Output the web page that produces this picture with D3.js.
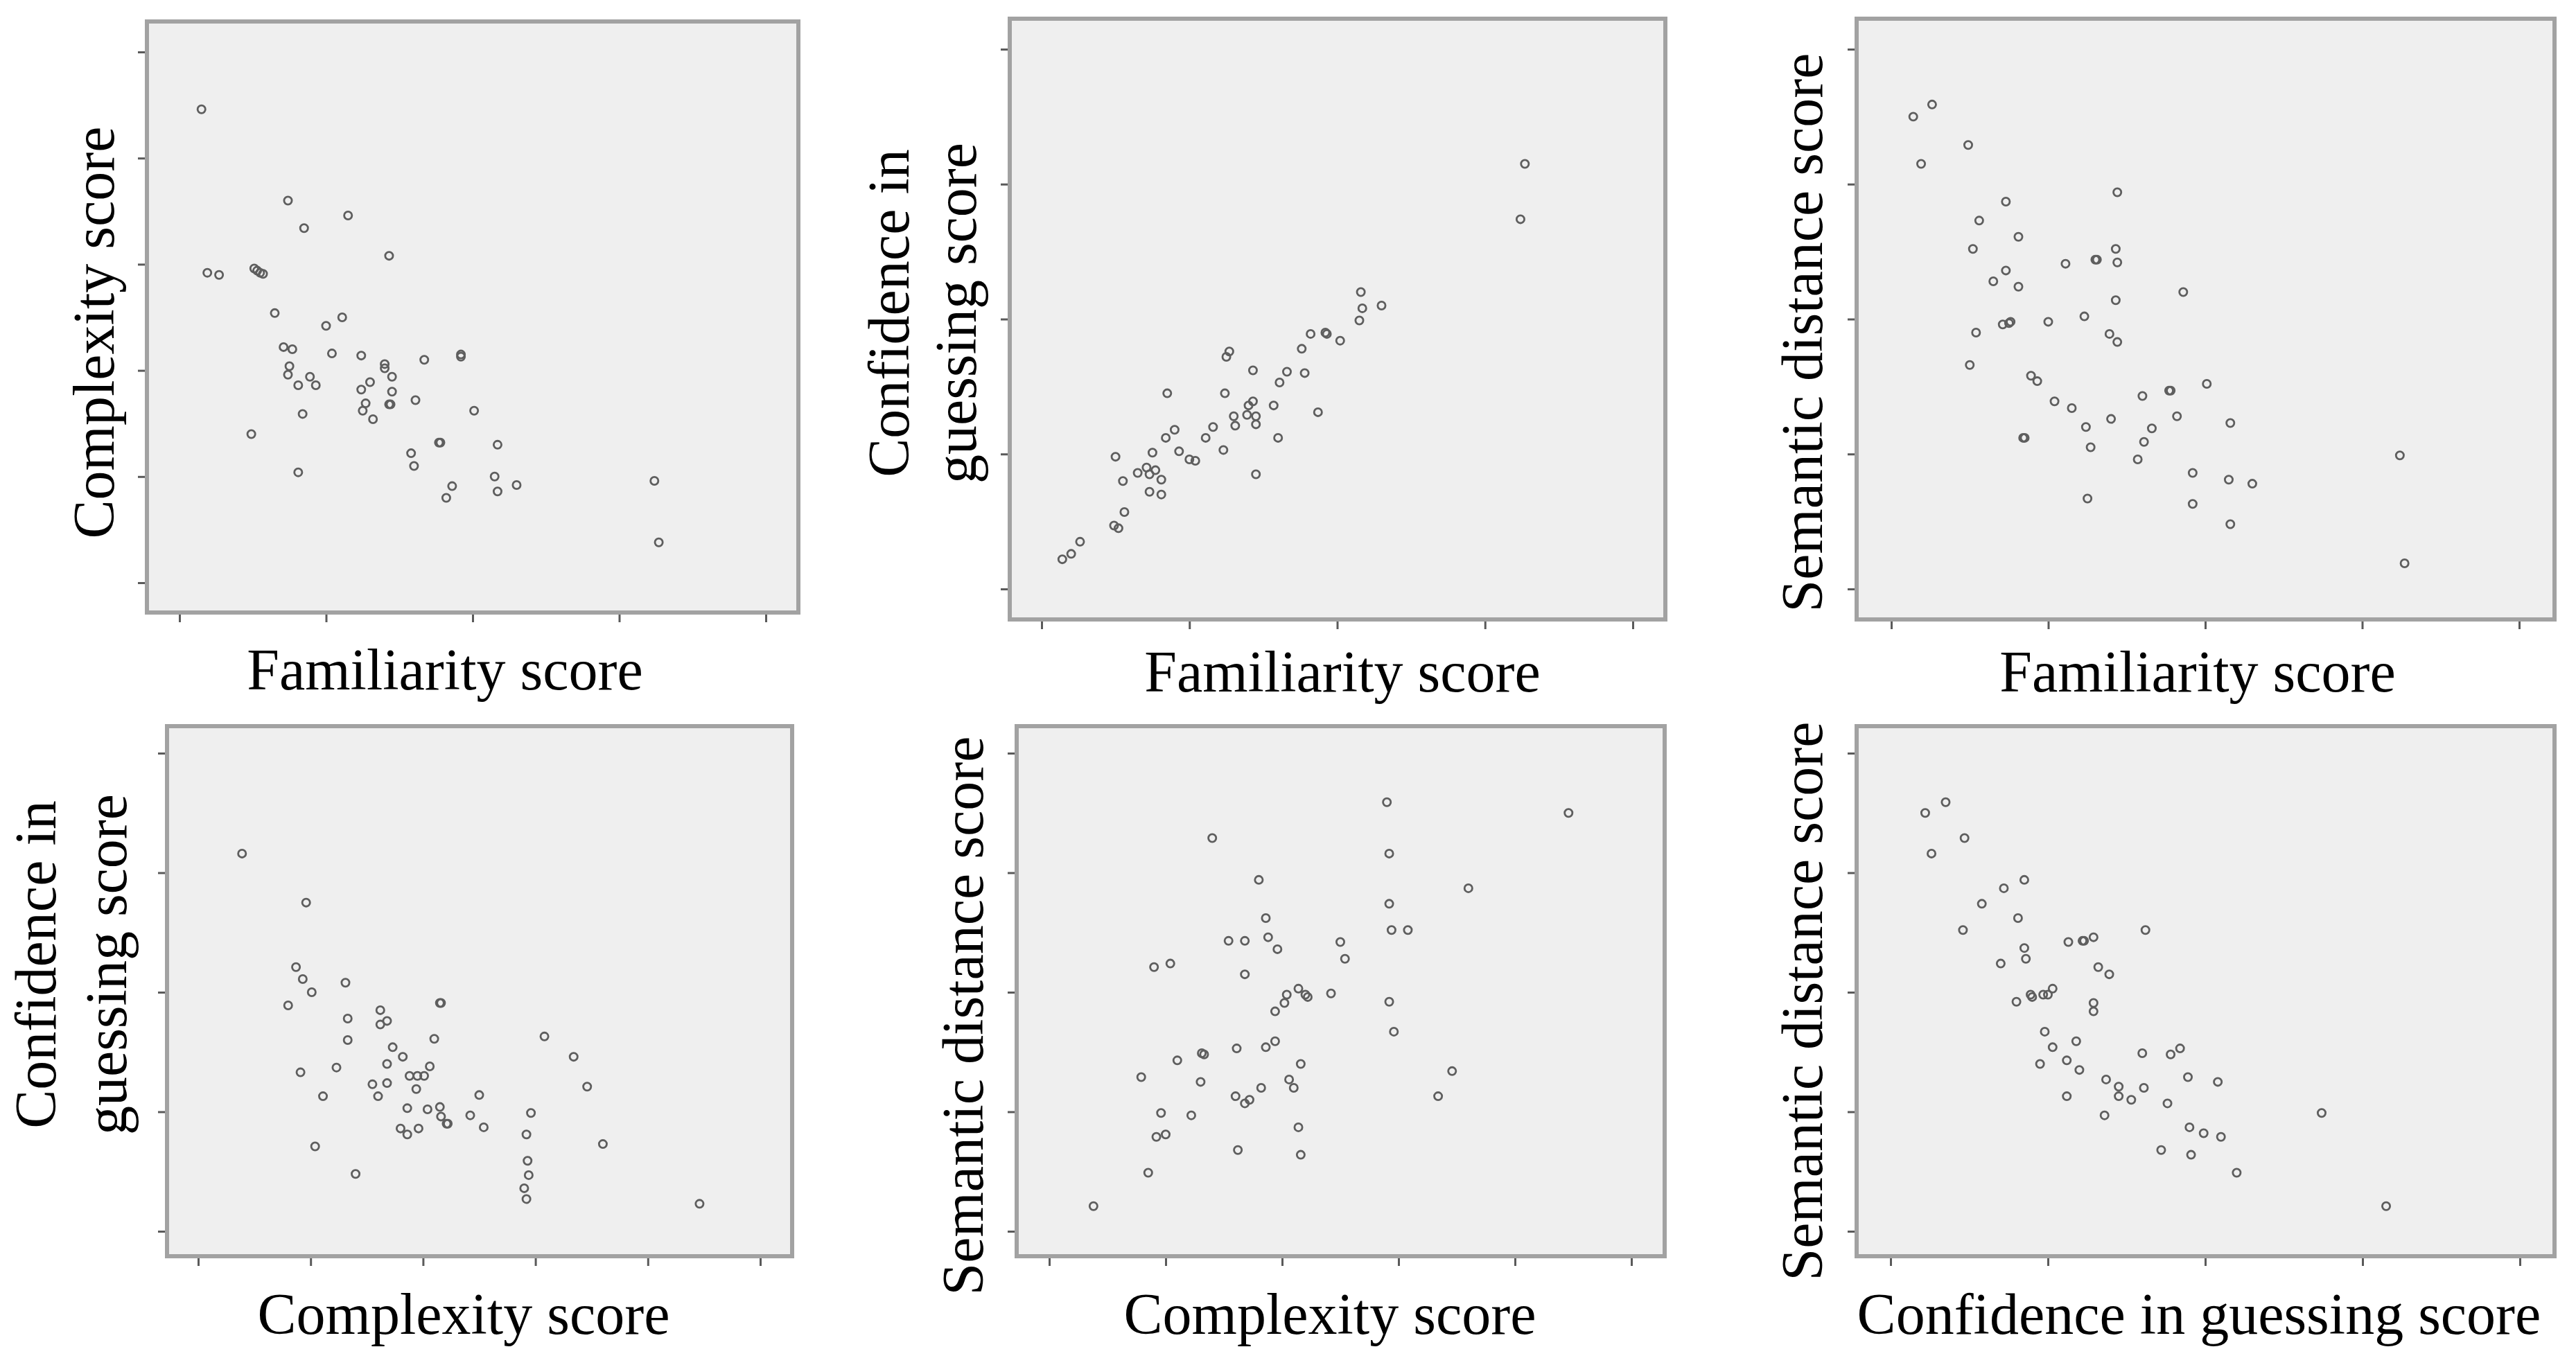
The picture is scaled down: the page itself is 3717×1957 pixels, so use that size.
<!DOCTYPE html>
<html>
<head>
<meta charset="utf-8">
<script src="https://cdn.jsdelivr.net/npm/d3@7"></script>
<style>
  body { margin: 0; background: #fff; }
  svg text { font-family: "Liberation Serif", "Times New Roman", serif; fill: #000; }
</style>
</head>
<body>
<div class="chart"></div>
<script>
// values, in tick units (first tick = 0)
const famComplexity = [[0.15,4.46],[0.74,3.60],[1.15,3.46],[0.85,3.34],[1.43,3.08],[0.19,2.92],[0.27,2.90],[0.51,2.96],[0.53,2.94],[0.55,2.92],[0.57,2.91],[0.65,2.54],[1.00,2.42],[1.11,2.50],[0.71,2.22],[0.77,2.20],[1.04,2.16],[1.24,2.14],[1.40,2.06],[1.40,2.02],[1.67,2.10],[1.92,2.15],[1.92,2.13],[0.75,2.04],[0.74,1.96],[0.89,1.94],[0.81,1.86],[0.93,1.86],[1.45,1.94],[1.30,1.89],[1.24,1.82],[1.45,1.80],[1.27,1.69],[1.43,1.68],[1.44,1.68],[1.61,1.72],[1.25,1.62],[1.32,1.54],[0.84,1.59],[2.01,1.62],[0.49,1.40],[1.77,1.32],[1.78,1.32],[2.17,1.30],[1.58,1.22],[1.60,1.10],[0.81,1.04],[2.15,1.00],[1.86,0.91],[1.82,0.80],[2.17,0.86],[2.30,0.92],[3.24,0.96],[3.27,0.38]];

const famConfidence = [[3.27,3.15],[3.24,2.74],[2.16,2.20],[2.17,2.08],[2.30,2.10],[2.15,1.99],[1.92,1.90],[1.93,1.89],[1.82,1.89],[2.02,1.84],[1.76,1.78],[1.27,1.76],[1.25,1.72],[1.43,1.62],[1.66,1.61],[1.78,1.60],[1.61,1.53],[0.85,1.45],[1.24,1.45],[1.43,1.39],[1.40,1.36],[1.57,1.36],[1.87,1.31],[1.30,1.28],[1.39,1.29],[1.45,1.28],[1.31,1.21],[1.45,1.22],[1.16,1.20],[0.90,1.18],[0.84,1.12],[1.11,1.12],[1.60,1.12],[1.23,1.03],[0.75,1.01],[0.93,1.02],[1.00,0.96],[1.04,0.95],[0.50,0.98],[0.71,0.90],[0.77,0.88],[0.65,0.86],[0.73,0.85],[0.81,0.81],[0.55,0.80],[0.73,0.72],[0.81,0.70],[1.45,0.85],[0.56,0.57],[0.49,0.47],[0.52,0.45],[0.26,0.35],[0.20,0.26],[0.14,0.22]];

const famSemantic = [[0.26,3.59],[0.14,3.50],[0.19,3.15],[0.49,3.29],[1.44,2.94],[0.73,2.87],[0.56,2.73],[0.81,2.61],[0.52,2.52],[1.43,2.52],[1.30,2.44],[1.31,2.44],[1.44,2.42],[1.11,2.41],[0.73,2.36],[0.65,2.28],[0.81,2.24],[1.86,2.20],[1.43,2.14],[1.23,2.02],[1.00,1.98],[0.71,1.96],[0.75,1.97],[0.76,1.98],[0.54,1.90],[1.39,1.89],[1.44,1.83],[0.50,1.66],[0.89,1.58],[0.93,1.54],[2.01,1.52],[1.77,1.47],[1.78,1.47],[1.60,1.43],[1.04,1.39],[1.15,1.34],[1.82,1.28],[1.40,1.26],[2.16,1.23],[1.24,1.20],[1.66,1.19],[0.84,1.12],[0.85,1.12],[1.61,1.09],[1.27,1.05],[1.57,0.96],[3.24,0.99],[1.92,0.86],[2.15,0.81],[2.30,0.78],[1.25,0.67],[1.92,0.63],[2.16,0.48],[3.27,0.19]];

const compConfidence = [[0.39,3.16],[0.96,2.75],[0.87,2.21],[0.93,2.11],[1.31,2.08],[1.01,2.00],[0.80,1.89],[2.15,1.91],[2.16,1.91],[1.62,1.85],[1.68,1.76],[1.33,1.78],[1.62,1.73],[2.10,1.61],[1.33,1.60],[3.08,1.63],[1.73,1.54],[1.82,1.46],[3.34,1.46],[1.68,1.40],[2.06,1.38],[1.23,1.37],[0.91,1.33],[1.88,1.30],[1.95,1.30],[2.01,1.30],[1.55,1.23],[1.68,1.24],[1.94,1.19],[3.46,1.21],[1.11,1.13],[1.60,1.13],[2.50,1.14],[1.86,1.03],[2.04,1.02],[2.15,1.04],[2.16,0.96],[2.21,0.90],[2.22,0.90],[2.42,0.97],[2.96,0.99],[2.54,0.87],[1.80,0.86],[1.86,0.81],[1.96,0.86],[2.92,0.81],[1.04,0.71],[3.60,0.73],[1.40,0.48],[2.93,0.59],[2.94,0.47],[2.90,0.36],[2.92,0.27],[4.46,0.23]];

const compSemantic = [[2.90,3.59],[4.46,3.50],[1.40,3.29],[2.92,3.16],[1.80,2.94],[3.60,2.87],[2.92,2.74],[1.86,2.62],[2.94,2.52],[3.08,2.52],[1.54,2.43],[1.68,2.43],[1.88,2.46],[1.96,2.36],[2.50,2.42],[2.54,2.28],[0.90,2.21],[1.04,2.24],[1.68,2.15],[2.14,2.03],[2.04,1.98],[2.20,1.98],[2.22,1.96],[2.42,1.99],[2.02,1.91],[1.94,1.84],[2.92,1.92],[2.96,1.67],[1.94,1.59],[1.86,1.54],[1.61,1.53],[1.31,1.49],[1.33,1.48],[1.10,1.43],[2.16,1.40],[3.46,1.34],[0.79,1.29],[1.30,1.25],[2.06,1.27],[2.10,1.20],[1.82,1.20],[1.60,1.13],[1.72,1.10],[1.68,1.07],[3.34,1.13],[0.96,0.99],[1.22,0.97],[1.00,0.81],[0.92,0.79],[2.14,0.87],[1.62,0.68],[2.16,0.64],[0.85,0.49],[0.38,0.21]];

const confSemantic = [[0.35,3.59],[0.22,3.50],[0.47,3.29],[0.26,3.16],[0.85,2.94],[0.72,2.87],[0.58,2.74],[0.81,2.62],[0.46,2.52],[1.62,2.52],[1.13,2.42],[1.22,2.43],[1.23,2.43],[1.29,2.46],[0.85,2.37],[0.86,2.28],[0.70,2.24],[1.32,2.21],[1.39,2.15],[1.03,2.03],[0.89,1.98],[0.90,1.96],[0.97,1.98],[1.00,1.98],[0.80,1.92],[1.29,1.91],[1.29,1.84],[0.98,1.67],[1.18,1.59],[1.03,1.54],[1.84,1.53],[1.60,1.49],[1.78,1.48],[1.12,1.43],[0.95,1.40],[1.20,1.35],[1.89,1.29],[1.37,1.27],[2.08,1.25],[1.45,1.21],[1.61,1.20],[1.45,1.13],[1.53,1.10],[1.12,1.13],[1.76,1.07],[2.74,0.99],[1.36,0.97],[1.90,0.87],[1.99,0.82],[2.10,0.79],[1.72,0.68],[1.91,0.64],[2.20,0.49],[3.15,0.21]];

// number of tick intervals on each axis
const xTickCounts = [4, 4, 4, 5, 5, 4];
const yTickCounts = [5, 4, 4, 4, 4, 4];

const xLabels = ['Familiarity score', 'Familiarity score', 'Familiarity score',
                 'Complexity score', 'Complexity score', 'Confidence in guessing score'];
const yLabels = [['Complexity score'], ['Confidence in', 'guessing score'], ['Semantic distance score'],
                 ['Confidence in', 'guessing score'], ['Semantic distance score'], ['Semantic distance score']];

const seriesList = [famComplexity, famConfidence, famSemantic, compConfidence, compSemantic, confSemantic];

// layout (pixels)
const width = 3717, height = 1957;
const panels = [
  {frame: [212, 31, 1152, 884],   xr: [259, 1105],  yr: [841, 75],   ylab: {x: [164], cy: 480},        xlab: {cx: 642,  y: 995}},
  {frame: [1457, 27, 2403, 894],  xr: [1503, 2356], yr: [850, 71],   ylab: {x: [1311, 1408], cy: 452}, xlab: {cx: 1937, y: 998}},
  {frame: [2679, 27, 3686, 894],  xr: [2729, 3635], yr: [850, 71],   ylab: {x: [2629], cy: 480},       xlab: {cx: 3171, y: 998}},
  {frame: [241, 1048, 1143, 1813],xr: [286, 1097],  yr: [1777, 1087],ylab: {x: [80, 182], cy: 1392},   xlab: {cx: 669,  y: 1925}},
  {frame: [1467, 1048, 2402, 1813],xr: [1514, 2354],yr: [1777, 1087],ylab: {x: [1418], cy: 1466},      xlab: {cx: 1919, y: 1925}},
  {frame: [2679, 1048, 3686, 1813],xr: [2728, 3636],yr: [1777, 1087],ylab: {x: [2629], cy: 1445},      xlab: {cx: 3173, y: 1925}}
];

const svg = d3.select('.chart')
  .append('svg')
  .attr('width', width)
  .attr('height', height);

panels.forEach((p, i) => {
  const [x0, y0, x1, y1] = p.frame;
  const x = d3.scaleLinear().domain([0, xTickCounts[i]]).range(p.xr);
  const y = d3.scaleLinear().domain([0, yTickCounts[i]]).range(p.yr);
  const g = svg.append('g');

  g.append('rect')
    .attr('x', x0).attr('y', y0)
    .attr('width', x1 - x0).attr('height', y1 - y0)
    .attr('fill', '#efefef')
    .attr('stroke', '#a2a2a2')
    .attr('stroke-width', 6);

  const xAxis = g.append('g')
    .attr('transform', `translate(0,${y1 + 3})`)
    .call(d3.axisBottom(x).tickValues(d3.range(xTickCounts[i] + 1)).tickFormat('').tickSize(11).tickSizeOuter(0));
  const yAxis = g.append('g')
    .attr('transform', `translate(${x0 - 3},0)`)
    .call(d3.axisLeft(y).tickValues(d3.range(yTickCounts[i] + 1)).tickFormat('').tickSize(10).tickSizeOuter(0));
  [xAxis, yAxis].forEach(a => {
    a.select('.domain').remove();
    a.selectAll('line').attr('stroke', '#5a5a5a').attr('stroke-width', 3);
  });

  g.selectAll('circle')
    .data(seriesList[i])
    .enter()
    .append('circle')
    .attr('cx', d => x(d[0]))
    .attr('cy', d => y(d[1]))
    .attr('r', 5.6)
    .attr('fill', 'none')
    .attr('stroke', '#5e5e5e')
    .attr('stroke-width', 2.8);

  g.append('text')
    .attr('x', p.xlab.cx)
    .attr('y', p.xlab.y)
    .attr('text-anchor', 'middle')
    .attr('font-size', '84px')
    .text(xLabels[i]);

  yLabels[i].forEach((line, k) => {
    g.append('text')
      .attr('transform', `translate(${p.ylab.x[k]},${p.ylab.cy}) rotate(-90)`)
      .attr('text-anchor', 'middle')
      .attr('font-size', '84px')
      .text(line);
  });
});
</script>
</body>
</html>
